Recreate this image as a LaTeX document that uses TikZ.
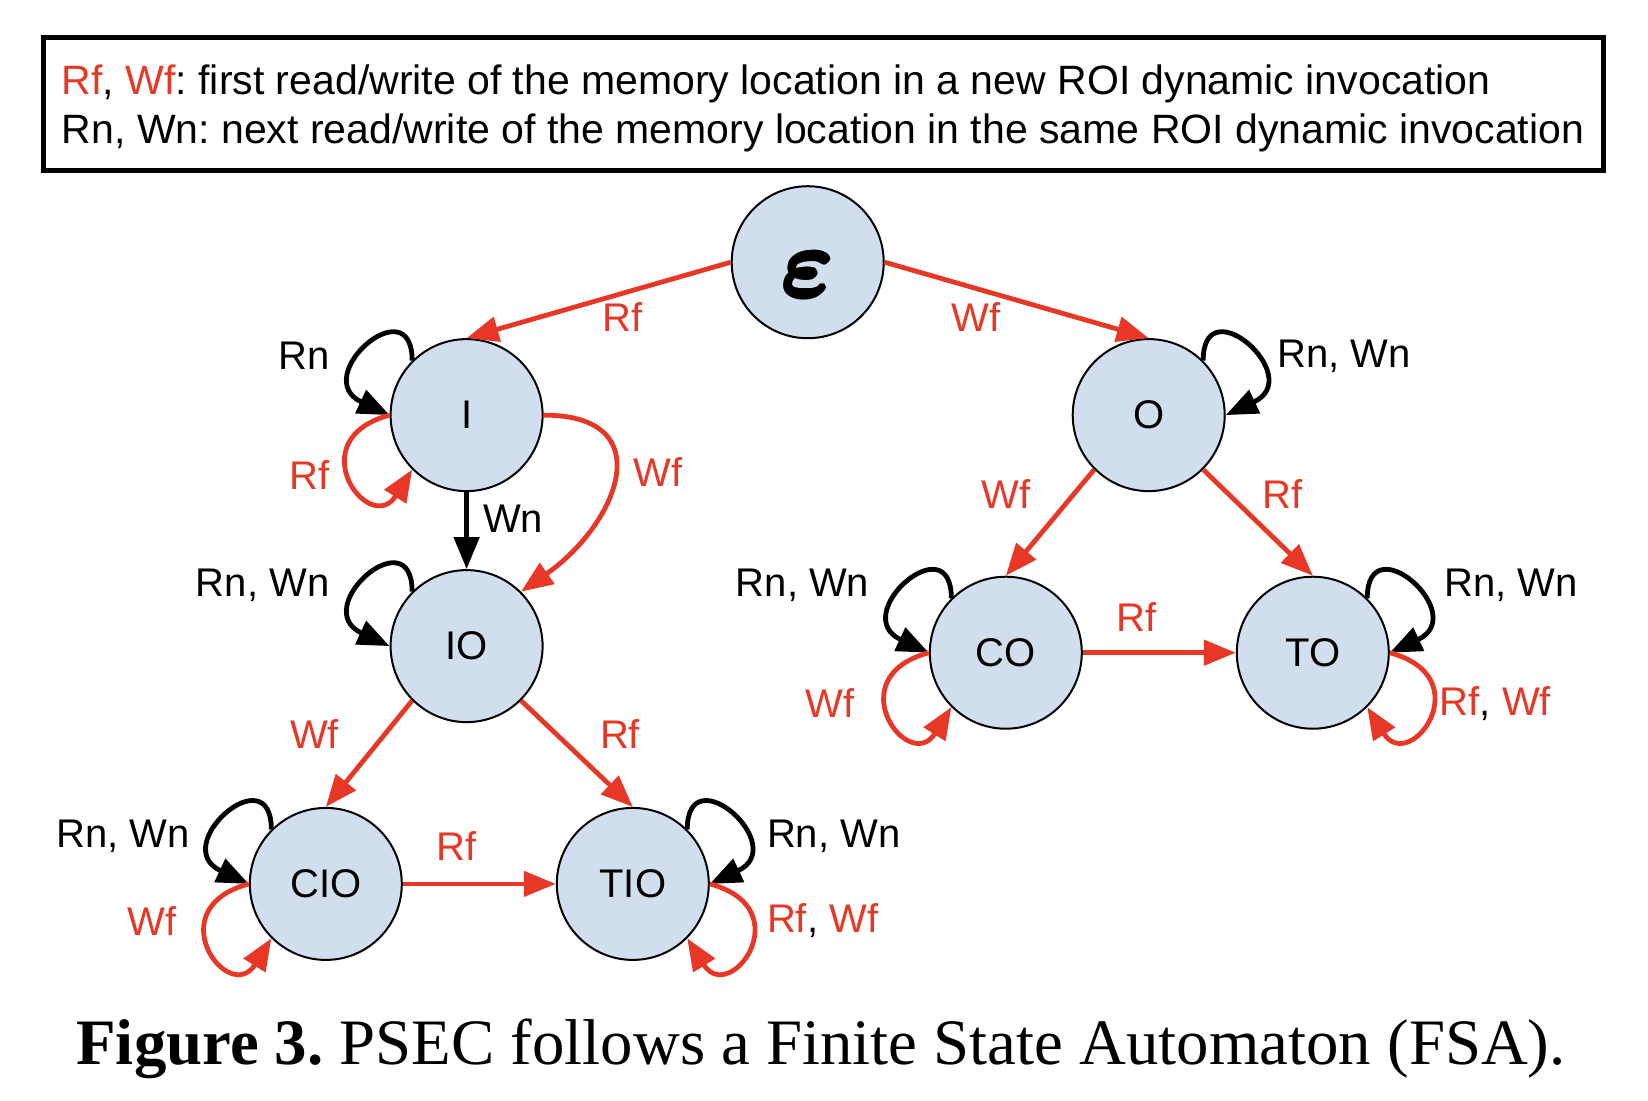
\RequirePackage{fix-cm}
\documentclass[tikz,border=0pt]{standalone}
\usepackage{amsmath,bm}
\usepackage{fontspec}
\newfontfamily\arialfont{Liberation Sans}
\newfontfamily\captionfont{Liberation Serif}
\usetikzlibrary{positioning,arrows.meta}
\definecolor{fsared}{RGB}{231,56,39}
\definecolor{statefill}{RGB}{208,222,238}
\newcommand{\lblfont}{\arialfont\fontsize{20}{24}\selectfont}
% overprinted glyph, heavier than the bold math letter
\newcommand{\heavyglyph}[1]{%
  \rlap{\kern-1pt#1}\rlap{\kern1pt#1}\rlap{\raisebox{1pt}{#1}}\rlap{\raisebox{-1pt}{#1}}%
  \rlap{\kern-0.7pt\raisebox{0.7pt}{#1}}\rlap{\kern0.7pt\raisebox{-0.7pt}{#1}}%
  \rlap{\kern0.7pt\raisebox{0.7pt}{#1}}\rlap{\kern-0.7pt\raisebox{-0.7pt}{#1}}#1}
\frenchspacing

\begin{document}
\begin{tikzpicture}[x=0.5pt, y=-0.5pt,
  state/.style={circle, draw=black, line width=1pt, fill=statefill,
                minimum size=76pt, inner sep=0pt, font=\lblfont},
  firstacc/.style={draw=fsared, line width=2.4pt, -{Triangle[length=16pt,width=12.5pt]}},
  nextacc/.style={draw=black, line width=2.4pt, -{Triangle[length=16pt,width=12.5pt]}},
  tag/.style={font=\lblfont, inner sep=1pt, text=black},
  redtag/.style={tag, text=fsared},
  loopnw/.style={out=90, in=155, out distance=37.5pt, in distance=45pt},
  loopne/.style={out=90, in=25, out distance=37.5pt, in distance=45pt},
  loopsw/.style={out=195, in=238, out distance=47.5pt, in distance=40pt},
  loopse/.style={out=-15, in=-58, out distance=47.5pt, in distance=40pt},
  keybox/.style={draw=black, line width=2.5pt, minimum width=780pt, minimum height=66.5pt,
                 align=left, inner sep=0pt, font=\arialfont\fontsize{20.5}{24.7}\selectfont},
  caption/.style={anchor=base, inner sep=0pt, font=\captionfont\fontsize{32.4}{38}\selectfont}
]
\useasboundingbox (0,0) rectangle (1648,1100);

% ── legend ───────────────────────────────────────────────────────────────────
\node[keybox] (key) at (823,103.5) {\rule{0pt}{20pt}\textcolor{fsared}{Rf}, \textcolor{fsared}{Wf}: first read/write of the memory location in a new ROI dynamic invocation\\
  Rn, Wn: next read/write of the memory location in the same ROI dynamic invocation};

% ── states ───────────────────────────────────────────────────────────────────
\node[state] (eps) at (807.7,262.2) {\raisebox{-6.5pt}[21pt][0pt]{\fontsize{48}{48}\selectfont\heavyglyph{$\bm{\varepsilon}$}}};
\node[state] (I) at (466.6,415.1) {I};
\node[state] (O) at (1148.7,415.1) {O};
\node[state, below=38.5pt of I] (IO) {IO};
\node[state] (CIO) at (325.8,883.9) {CIO};
\node[state, right=76.5pt of CIO] (TIO) {TIO};
\node[state] (CO) at (1005.8,652.7) {CO};
\node[state, right=76.5pt of CO] (TO) {TO};

% ── transitions ──────────────────────────────────────────────────────────────
\draw[firstacc] (eps.west) -- node[redtag, below=2.5pt, pos=0.41]{Rf} (I.north);
\draw[firstacc] (eps.east) -- node[redtag, below=5pt, pos=0.345]{Wf} (O.north);

\draw[nextacc] (I.135) to[loopnw] node[tag, left=14.8pt, pos=0.585]{Rn} (I.west);
\draw[firstacc] (I.west) to[loopsw] node[redtag, left=7.8pt, pos=0.48]{Rf} (I.225);
\draw[nextacc] (I) -- node[tag, right=6pt, pos=0.34]{Wn} (IO);
\draw[firstacc] (I.east) to[out=0, in=35, looseness=1.7] node[redtag, right=7.5pt, pos=0.47]{Wf} (IO.45);

\draw[nextacc] (IO.135) to[loopnw] node[tag, left=15.3pt, pos=0.57]{Rn, Wn} (IO.west);
\draw[firstacc] (IO.225) -- node[redtag, left=21pt, pos=0.31]{Wf} (CIO.north);
\draw[firstacc] (IO.-45) -- node[redtag, right=20pt, pos=0.31]{Rf} (TIO.north);

\draw[nextacc] (CIO.135) to[loopnw] node[tag, left=12.2pt, pos=0.67]{Rn, Wn} (CIO.west);
\draw[firstacc] (CIO.west) to[loopsw] node[redtag, left=12pt, pos=0.31]{Wf} (CIO.225);
\draw[firstacc] (CIO) -- node[redtag, above=9.3pt, pos=0.35]{Rf} (TIO);

\draw[nextacc] (TIO.45) to[loopne] node[tag, right=11.2pt, pos=0.67]{Rn, Wn} (TIO.east);
\draw[firstacc] (TIO.east) to[loopse] node[tag, right=4.5pt, pos=0.31]{\textcolor{fsared}{Rf}, \textcolor{fsared}{Wf}} (TIO.-45);

\draw[nextacc] (O.45) to[loopne] node[tag, right=10.2pt, pos=0.59]{Rn, Wn} (O.east);
\draw[firstacc] (O.225) -- node[redtag, left=19.5pt, pos=0.23]{Wf} (CO.north);
\draw[firstacc] (O.-45) -- node[redtag, right=15pt, pos=0.23]{Rf} (TO.north);

\draw[nextacc] (CO.135) to[loopnw] node[tag, left=17pt, pos=0.52]{Rn, Wn} (CO.west);
\draw[firstacc] (CO.west) to[loopsw] node[redtag, left=13pt, pos=0.41]{Wf} (CO.225);
\draw[firstacc] (CO) -- node[redtag, above=8.3pt, pos=0.35]{Rf} (TO);

\draw[nextacc] (TO.45) to[loopne] node[tag, right=14.5pt, pos=0.52]{Rn, Wn} (TO.east);
\draw[firstacc] (TO.east) to[loopse] node[tag, right=1pt, pos=0.41]{\textcolor{fsared}{Rf}, \textcolor{fsared}{Wf}} (TO.-45);

% ── caption ──────────────────────────────────────────────────────────────────
\node[caption] (cap) at (821,1064) {\textbf{Figure 3.} PSEC follows a Finite State Automaton (FSA).};
\end{tikzpicture}
\end{document}
